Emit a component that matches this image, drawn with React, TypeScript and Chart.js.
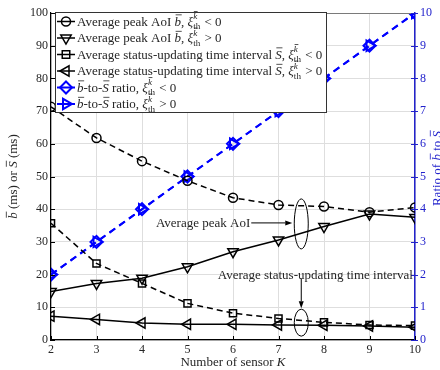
import React, { useEffect, useRef } from "react";
import { Chart, registerables } from "chart.js";
Chart.register(...registerables);

const K = [2, 3, 4, 5, 6, 7, 8, 9, 10];
const peakAoINeg = [71.3, 61.8, 54.7, 48.7, 43.5, 41.3, 40.8, 39.1, 40.5];
const peakAoIPos = [14.8, 17.3, 18.9, 22.4, 27.0, 30.6, 34.7, 38.5, 37.5];
const intervalNeg = [35.7, 23.4, 17.3, 11.2, 8.2, 6.6, 5.4, 4.6, 4.4];
const intervalPos = [7.3, 6.3, 5.2, 4.8, 4.8, 4.6, 4.5, 4.3, 3.9];
const ratioNeg = [2, 3, 4, 5, 6, 7, 8, 9, 10];
const ratioPos = [2, 3, 4, 5, 6, 7, 8, 9, 10];
const leftTicks = [0, 10, 20, 30, 40, 50, 60, 70, 80, 90, 100];
const rightTicks = [0, 1, 2, 3, 4, 5, 6, 7, 8, 9, 10];

const FONT = "'Liberation Serif', 'Times New Roman', serif";
const TXT = "#262626";
const BLUE = "#0000ff";
const BLUE_AX = "#2222cc";
const FS = 13;

type Seg = { t: string; it?: boolean; bar?: boolean; sub?: boolean; sup?: boolean };

const xi = (rel: string): Seg[] => [
  { t: "ξ", it: true },
  { t: "th", sub: true },
  { t: "k", it: true, bar: true, sup: true },
  { t: rel },
];
const bBar: Seg = { t: "b", it: true, bar: true };
const sBar: Seg = { t: "S", it: true, bar: true };

function fontFor(s: Seg, size: number) {
  const sz = s.sub || s.sup ? size * 0.7 : size;
  return `${s.it ? "italic " : ""}${sz}px ${FONT}`;
}

function layoutRich(ctx: CanvasRenderingContext2D, segs: Seg[], size: number) {
  const items: { s: Seg; x: number; w: number; dy: number; sz: number }[] = [];
  let cur = 0;
  let subStart = -1;
  let subW = 0;
  segs.forEach((s) => {
    ctx.font = fontFor(s, size);
    const w = ctx.measureText(s.t).width;
    const sz = s.sub || s.sup ? size * 0.7 : size;
    if (s.sub) {
      items.push({ s, x: cur, w, dy: size * 0.3, sz });
      subStart = cur;
      subW = w;
      cur += w;
    } else if (s.sup) {
      const x0 = subStart >= 0 ? subStart : cur;
      items.push({ s, x: x0, w, dy: -size * 0.5, sz });
      cur = subStart >= 0 ? subStart + Math.max(subW, w) + 1 : cur + w;
      subStart = -1;
    } else {
      subStart = -1;
      items.push({ s, x: cur, w, dy: 0, sz });
      cur += w;
    }
  });
  return { items, width: cur };
}

function drawRich(
  ctx: CanvasRenderingContext2D,
  x: number,
  y: number,
  segs: Seg[],
  size: number,
  color: string,
  align: "left" | "center" | "right" = "left"
) {
  const { items, width } = layoutRich(ctx, segs, size);
  const x0 = align === "left" ? x : align === "center" ? x - width / 2 : x - width;
  ctx.save();
  ctx.fillStyle = color;
  ctx.strokeStyle = color;
  ctx.textBaseline = "alphabetic";
  ctx.textAlign = "left";
  items.forEach((it) => {
    ctx.font = fontFor(it.s, size);
    ctx.fillText(it.s.t, x0 + it.x, y + it.dy);
    if (it.s.bar) {
      const by = y + it.dy - it.sz * 0.82;
      ctx.lineWidth = 0.8;
      ctx.beginPath();
      ctx.moveTo(x0 + it.x + it.sz * 0.08, by);
      ctx.lineTo(x0 + it.x + it.w + it.sz * 0.05, by);
      ctx.stroke();
    }
  });
  ctx.restore();
  return width;
}

function drawMarker(ctx: CanvasRenderingContext2D, style: string, x: number, y: number, r: number) {
  ctx.beginPath();
  if (style === "circle") {
    ctx.arc(x, y, r, 0, Math.PI * 2);
  } else if (style === "rect") {
    ctx.rect(x - r * 0.75, y - r * 0.75, r * 1.5, r * 1.5);
  } else if (style === "diamond") {
    ctx.moveTo(x, y - r);
    ctx.lineTo(x + r, y);
    ctx.lineTo(x, y + r);
    ctx.lineTo(x - r, y);
    ctx.closePath();
  } else {
    const rot = style === "down" ? Math.PI : style === "left" ? -Math.PI / 2 : Math.PI / 2;
    for (let i = 0; i < 3; i++) {
      const a = rot + (i * 2 * Math.PI) / 3;
      const px = x + r * Math.sin(a);
      const py = y - r * Math.cos(a);
      if (i === 0) ctx.moveTo(px, py);
      else ctx.lineTo(px, py);
    }
    ctx.closePath();
  }
  ctx.stroke();
}

function arrow(ctx: CanvasRenderingContext2D, x1: number, y1: number, x2: number, y2: number) {
  const ang = Math.atan2(y2 - y1, x2 - x1);
  const L = 7;
  const H = 2.5;
  ctx.beginPath();
  ctx.moveTo(x1, y1);
  ctx.lineTo(x2 - L * Math.cos(ang), y2 - L * Math.sin(ang));
  ctx.stroke();
  ctx.beginPath();
  ctx.moveTo(x2, y2);
  ctx.lineTo(x2 - L * Math.cos(ang) + H * Math.sin(ang), y2 - L * Math.sin(ang) - H * Math.cos(ang));
  ctx.lineTo(x2 - L * Math.cos(ang) - H * Math.sin(ang), y2 - L * Math.sin(ang) + H * Math.cos(ang));
  ctx.closePath();
  ctx.fill();
}

const legendRows: { segs: Seg[]; marker: string; color: string }[] = [
  { segs: [{ t: "Average peak AoI " }, bBar, { t: ", " }, ...xi(" < 0")], marker: "circle", color: "#000" },
  { segs: [{ t: "Average peak AoI " }, bBar, { t: ", " }, ...xi(" > 0")], marker: "down", color: "#000" },
  { segs: [{ t: "Average status-updating time interval " }, sBar, { t: ", " }, ...xi(" < 0")], marker: "rect", color: "#000" },
  { segs: [{ t: "Average status-updating time interval " }, sBar, { t: ", " }, ...xi(" > 0")], marker: "left", color: "#000" },
  { segs: [bBar, { t: "-to-" }, sBar, { t: " ratio, " }, ...xi(" < 0")], marker: "diamond", color: BLUE },
  { segs: [bBar, { t: "-to-" }, sBar, { t: " ratio, " }, ...xi(" > 0")], marker: "right", color: BLUE },
];

const overlay = {
  id: "overlay",
  afterDatasetsDraw(chart: any) {
    const ctx: CanvasRenderingContext2D = chart.ctx;
    const { left, right, top, bottom } = chart.chartArea;
    const xs = chart.scales.x;
    const ys = chart.scales.y;
    const y1 = chart.scales.y1;
    ctx.save();

    // top border
    ctx.strokeStyle = "#7a7a7a";
    ctx.lineWidth = 1;
    ctx.beginPath();
    ctx.moveTo(left, top + 0.5);
    ctx.lineTo(right, top + 0.5);
    ctx.stroke();

    // inward ticks
    ctx.strokeStyle = "#000";
    leftTicks.forEach((v) => {
      const py = Math.round(ys.getPixelForValue(v)) + 0.5;
      ctx.beginPath();
      ctx.moveTo(left, py);
      ctx.lineTo(left + 4, py);
      ctx.stroke();
    });
    K.forEach((v) => {
      const px = Math.round(xs.getPixelForValue(v)) + 0.5;
      ctx.beginPath();
      ctx.moveTo(px, bottom);
      ctx.lineTo(px, bottom - 4);
      ctx.stroke();
    });
    ctx.strokeStyle = BLUE_AX;
    rightTicks.forEach((v) => {
      const py = Math.round(y1.getPixelForValue(v)) + 0.5;
      ctx.beginPath();
      ctx.moveTo(right - 4, py);
      ctx.lineTo(right + 3, py);
      ctx.stroke();
    });

    // annotations
    ctx.strokeStyle = "#000";
    ctx.fillStyle = "#000";
    ctx.lineWidth = 1;
    const ax = xs.getPixelForValue(7.5);
    const cy1 = ys.getPixelForValue(35.5);
    ctx.beginPath();
    ctx.ellipse(ax, cy1, 7, 25, 0, 0, Math.PI * 2);
    ctx.stroke();
    const ty1 = cy1 - 1;
    drawRich(ctx, ax - 51, ty1 + 4, [{ t: "Average peak AoI" }], FS, TXT, "right");
    arrow(ctx, ax - 50, ty1, ax - 9, ty1);

    const cy2 = ys.getPixelForValue(5.3);
    ctx.beginPath();
    ctx.ellipse(ax, cy2, 7, 13.5, 0, 0, Math.PI * 2);
    ctx.stroke();
    const ty2 = ys.getPixelForValue(20);
    drawRich(ctx, ax + 14, ty2 + 4, [{ t: "Average status-updating time interval" }], FS, TXT, "center");
    arrow(ctx, ax, ty2 + 4, ax, cy2 - 14.5);

    // legend
    const lx0 = 55, lx1 = 326, ly0 = 12, ly1 = 112;
    ctx.fillStyle = "#fff";
    ctx.fillRect(lx0, ly0, lx1 - lx0, ly1 - ly0);
    ctx.strokeStyle = "#333";
    ctx.lineWidth = 1;
    ctx.strokeRect(lx0 + 0.5, ly0 + 0.5, lx1 - lx0, ly1 - ly0);
    legendRows.forEach((row, i) => {
      const cy = 21.5 + 16.5 * i;
      ctx.strokeStyle = row.color;
      ctx.lineWidth = row.color === BLUE ? 2 : 1.5;
      ctx.beginPath();
      ctx.moveTo(57, cy);
      ctx.lineTo(75, cy);
      ctx.stroke();
      ctx.fillStyle = "#fff";
      drawMarker(ctx, row.marker, 66, cy, row.marker === "circle" ? 4.5 : row.marker === "rect" ? 5 : 6);
      drawRich(ctx, 77, cy + 4, row.segs, FS, TXT, "left");
    });

    // axis titles
    const midY = (top + bottom) / 2;
    ctx.save();
    ctx.translate(17, midY);
    ctx.rotate(-Math.PI / 2);
    drawRich(ctx, 0, 0, [bBar, { t: " (ms) or " }, sBar, { t: " (ms)" }], FS, TXT, "center");
    ctx.restore();
    ctx.save();
    ctx.translate(441, midY - 8);
    ctx.rotate(-Math.PI / 2);
    drawRich(ctx, 0, 0, [{ t: "Ratio of " }, bBar, { t: " to " }, sBar], FS, BLUE_AX, "center");
    ctx.restore();
    drawRich(ctx, (left + right) / 2, 366, [{ t: "Number of sensor " }, { t: "K", it: true }], FS, TXT, "center");

    ctx.restore();
  },
};

export default function App() {
  const ref = useRef<HTMLCanvasElement | null>(null);
  useEffect(() => {
    if (!ref.current) return;
    const black = (data: number[], style: string, rot: number, dashed: boolean, r: number) => ({
      data: K.map((k, i) => ({ x: k, y: data[i] })),
      yAxisID: "y",
      borderColor: "#000",
      backgroundColor: "rgba(0,0,0,0)",
      borderWidth: 1.5,
      borderDash: dashed ? [6, 4] : [],
      pointStyle: style,
      pointRotation: rot,
      pointRadius: r,
      pointBorderWidth: 1.5,
      pointBorderColor: "#000",
      pointBackgroundColor: "rgba(0,0,0,0)",
      tension: 0,
    });
    const blue = (data: number[], style: string, rot: number, r: number) => ({
      data: K.map((k, i) => ({ x: k, y: data[i] })),
      yAxisID: "y1",
      borderColor: BLUE,
      backgroundColor: "rgba(0,0,0,0)",
      borderWidth: 2,
      borderDash: [7, 5],
      pointStyle: style,
      pointRotation: rot,
      pointRadius: r,
      pointBorderWidth: 2,
      pointBorderColor: BLUE,
      pointBackgroundColor: "rgba(0,0,0,0)",
      tension: 0,
    });
    const chart = new Chart(ref.current, {
      type: "line",
      data: {
        datasets: [
          black(peakAoINeg, "circle", 0, true, 4.5),
          black(peakAoIPos, "triangle", 180, false, 6),
          black(intervalNeg, "rect", 0, true, 5),
          black(intervalPos, "triangle", -90, false, 6),
          blue(ratioNeg, "rectRot", 0, 6),
          blue(ratioPos, "triangle", 90, 6),
        ] as any,
      },
      options: {
        animation: false,
        responsive: false,
        devicePixelRatio: 1,
        layout: { padding: { top: 13, left: 0, right: 0, bottom: 0 } },
        plugins: { legend: { display: false }, tooltip: { enabled: false } },
        scales: {
          x: {
            type: "linear",
            min: 2,
            max: 10,
            afterFit: (s: any) => { s.height = 30; },
            afterBuildTicks: (s: any) => { s.ticks = K.map((v) => ({ value: v })); },
            ticks: { font: { family: FONT, size: 12 }, color: TXT, padding: 3 },
            grid: { color: "#dedede", tickLength: 0, lineWidth: 1 },
            border: { color: "#000", width: 1.2 },
          },
          y: {
            type: "linear",
            position: "left",
            min: 0,
            max: 100,
            afterFit: (s: any) => { s.width = 51; },
            afterBuildTicks: (s: any) => { s.ticks = leftTicks.map((v) => ({ value: v })); },
            ticks: { font: { family: FONT, size: 12 }, color: TXT, padding: 3 },
            grid: { color: "#dedede", tickLength: 0, lineWidth: 1 },
            border: { color: "#000", width: 1.2 },
          },
          y1: {
            type: "linear",
            position: "right",
            min: 0,
            max: 10,
            afterFit: (s: any) => { s.width = 25; },
            afterBuildTicks: (s: any) => { s.ticks = rightTicks.map((v) => ({ value: v })); },
            ticks: { font: { family: FONT, size: 12 }, color: BLUE_AX, padding: 5 },
            grid: { drawOnChartArea: false, tickLength: 0 },
            border: { color: BLUE_AX, width: 1.5 },
          },
        },
      } as any,
      plugins: [overlay],
    });
    return () => chart.destroy();
  }, []);
  return (
    <div style={{ position: "fixed", left: 0, top: 0, width: 440, height: 370, background: "#fff" }}>
      <canvas ref={ref} width={440} height={370} style={{ width: 440, height: 370, display: "block" }} />
    </div>
  );
}
